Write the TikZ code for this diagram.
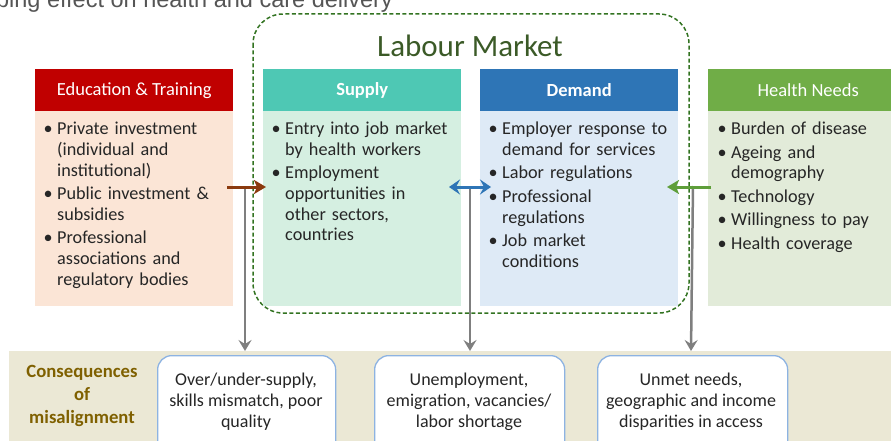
\documentclass[tikz,border=0pt]{standalone}
\usepackage{fontspec}
\setmainfont{Carlito}
\newfontfamily\topfont{Liberation Sans}
\usetikzlibrary{arrows.meta}
\definecolor{edured}{HTML}{C00000}
\definecolor{edubody}{HTML}{FBE5D6}
\definecolor{supteal}{HTML}{4EC8B4}
\definecolor{supbody}{HTML}{D5EFE1}
\definecolor{demblue}{HTML}{2E75B6}
\definecolor{dembody}{HTML}{DEEAF6}
\definecolor{hngreen}{HTML}{70AD47}
\definecolor{hnbody}{HTML}{E2EBD9}
\definecolor{lmgreen}{HTML}{3B5A27}
\definecolor{brownarr}{HTML}{8B3A0E}
\definecolor{greenarr}{HTML}{5E9E3A}
\definecolor{grayarr}{HTML}{7F7F7F}
\definecolor{bandcol}{HTML}{EBE8D5}
\definecolor{conseq}{HTML}{7F6000}
\definecolor{cborder}{HTML}{8DB3E2}
\definecolor{txt}{HTML}{262626}
\definecolor{toptxt}{HTML}{555555}
\newcommand\bitem[1]{\par\noindent\hangindent=14.5pt\hangafter=1\makebox[14.5pt][l]{\hspace{1pt}•}#1\par}
\tikzset{
  hdr/.style={anchor=north west, minimum width=198pt, minimum height=42pt, inner sep=0pt, text=white, font=\fontsize{18.5}{20}\selectfont},
  hdrb/.style={hdr, font=\bfseries\fontsize{18.5}{20}\selectfont},
  bodybox/.style={anchor=north west, minimum width=198pt, minimum height=195pt, inner sep=0pt},
  bodytxt/.style={anchor=north west, inner sep=0pt, text width=188pt, text=txt, font=\fontsize{18.2}{20.7}\selectfont\setlength{\parskip}{2.8pt}},
  conbox/.style={draw=cborder, line width=1.3pt, fill=white, rounded corners=14pt, anchor=north west, minimum height=110pt, inner sep=0pt},
  contxt/.style={align=center, text=txt, font=\fontsize{18}{21}\selectfont, inner sep=0pt},
  grayarrow/.style={draw=grayarr, line width=2.5pt, -{Stealth[length=11pt,width=13pt,inset=4pt]}},
}
\begin{document}
\begin{tikzpicture}[x=1pt,y=-1pt]
\useasboundingbox (0,0) rectangle (891,441);
\clip (0,0) rectangle (891,441);
% top cropped text
\node[anchor=base east, inner sep=0pt, text=toptxt, font=\topfont\fontsize{23.5}{26}\selectfont] (toptext) at (393,7.5) {bing effect on health and care delivery};
% labour market dashed frame
\draw[lmgreen!85!green, line width=1.5pt, dash pattern=on 4pt off 2.5pt, rounded corners=30pt] (253,14) rectangle (689,313);
\node[text=lmgreen, font=\fontsize{31}{33}\selectfont, inner sep=0pt] (lmtitle) at (470,46) {Labour Market};
% bodies
\node[bodybox, fill=edubody] (edub) at (35,111) {};
\node[bodybox, fill=supbody] (supb) at (263,111) {};
\node[bodybox, fill=dembody] (demb) at (480,111) {};
\node[bodybox, minimum width=200pt, fill=hnbody] (hnb) at (708,111) {};
% headers
\node[hdr, fill=edured] (eduh) at (35,69) {Education \& Training};
\node[hdrb, fill=supteal] (suph) at (263,69) {Supply};
\node[hdrb, fill=demblue] (demh) at (480,69) {Demand};
\node[hdr, fill=hngreen, minimum width=200pt] (hnh) at (708,69) {Health Needs};
% body texts
\node[bodytxt] (edut) at (42.5,111) {\bitem{Private investment\newline (individual and\newline institutional)}\bitem{Public investment \&\newline subsidies}\bitem{Professional\newline associations and\newline regulatory bodies}};
\node[bodytxt] (supt) at (270.5,111) {\bitem{Entry into job market\newline by health workers}\bitem{Employment\newline opportunities in\newline other sectors,\newline countries}};
\node[bodytxt] (demt) at (487.5,111) {\bitem{Employer response to\newline demand for services}\bitem{Labor regulations}\bitem{Professional\newline regulations}\bitem{Job market\newline conditions}};
\node[bodytxt] (hnt) at (716.5,111) {\bitem{Burden of disease}\bitem{Ageing and\newline demography}\bitem{Technology}\bitem{Willingness to pay}\bitem{Health coverage}};
% bottom band
\fill[bandcol] (9,351) rectangle (891,441);
\node[align=center, text=conseq, font=\bfseries\fontsize{18.7}{23}\selectfont, inner sep=0pt] (cons) at (82,396) {Consequences\\of\\misalignment};
\node[conbox, minimum width=178pt] (c1) at (157,355) {};
\node[conbox, minimum width=190pt] (c2) at (374,355) {};
\node[conbox, minimum width=190pt] (c3) at (597,355) {};
\node[contxt] (c1t) at (246,402) {Over/under-supply,\\skills mismatch, poor\\quality};
\node[contxt] (c2t) at (469,402) {Unemployment,\\emigration, vacancies/\\labor shortage};
\node[contxt] (c3t) at (691,402) {Unmet needs,\\geographic and income\\disparities in access};
% coordinates for arrows
\coordinate (bA) at (227,187);
\coordinate (bB) at (266,187);
\coordinate (uA) at (449,187);
\coordinate (uB) at (491,187);
\coordinate (gA) at (711,187);
\coordinate (gB) at (667,187);
\coordinate (v1a) at (245,186);
\coordinate (v1b) at (245,351);
\coordinate (v2a) at (470,186);
\coordinate (v2b) at (470,351);
\coordinate (v3a) at (693,186);
\coordinate (v3b) at (691,351);
% gray arrows
\draw[grayarrow] (v1a) -- (v1b);
\draw[grayarrow] (v2a) -- (v2b);
\draw[grayarrow] (v3a) -- (v3b);
% coloured arrows
\draw[brownarr, line width=3pt, -{Stealth[length=12pt,width=14pt,inset=3pt]}] (bA) -- (bB);
\draw[demblue, line width=3pt, {Stealth[length=11pt,width=15pt,inset=4pt]}-{Stealth[length=11pt,width=15pt,inset=4pt]}] (uA) -- (uB);
\draw[greenarr, line width=3pt, -{Stealth[length=12pt,width=14pt,inset=3pt]}] (gA) -- (gB);
\end{tikzpicture}
\end{document}
